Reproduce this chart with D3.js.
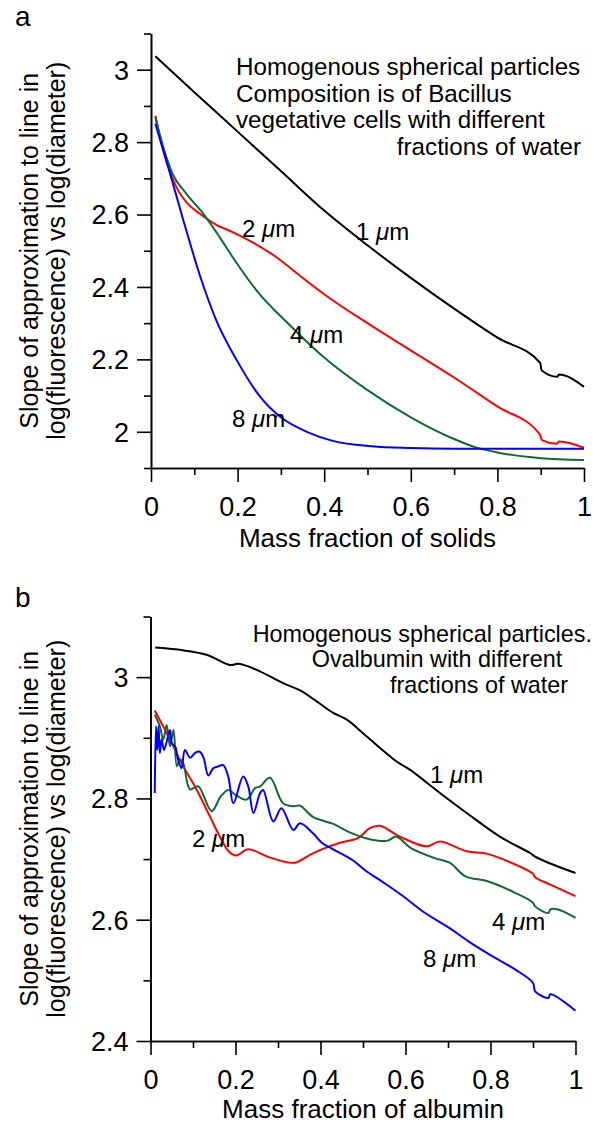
<!DOCTYPE html>
<html><head><meta charset="utf-8">
<script src="https://cdn.jsdelivr.net/npm/d3@7"></script>
<style>
html,body{margin:0;padding:0;background:#fff;}
svg text{font-family:"Liberation Sans",Arial,sans-serif;fill:#000;}
</style></head>
<body><svg id="c" width="607" height="1128"></svg>
<script>
// ---------- DATA ----------
const xTicks = [0, 0.2, 0.4, 0.6, 0.8, 1];
const xMinor = [0.1, 0.3, 0.5, 0.7, 0.9];
const aYTicks = [2, 2.2, 2.4, 2.6, 2.8, 3];
const aYMinor = [1.9, 2.1, 2.3, 2.5, 2.7, 2.9, 3.1];
const bYTicks = [2.4, 2.6, 2.8, 3];
const bYMinor = [2.5, 2.7, 2.9, 3.1];

// Panel a
const a1x = [0.01,0.1,0.2,0.3,0.4,0.5,0.6,0.7,0.8,0.899,0.902,0.938,0.942,1.0];
const a1y = [3.037,2.938,2.829,2.720,2.611,2.515,2.425,2.34,2.26,2.190,2.170,2.152,2.158,2.124];
const a2x = [0.01,0.03,0.059,0.085,0.113,0.15,0.19,0.235,0.29,0.344,0.4,0.5,0.6,0.7,0.8,0.898,0.903,0.937,0.943,1.0];
const a2y = [2.873,2.77,2.675,2.63,2.602,2.572,2.551,2.523,2.482,2.431,2.38,2.30,2.225,2.15,2.07,1.993,1.977,1.967,1.973,1.956];
const a4x = [0.01,0.03,0.05,0.08,0.121,0.16,0.19,0.244,0.32,0.4,0.5,0.6,0.7,0.75,0.8,0.9,1.0];
const a4y = [2.869,2.78,2.712,2.66,2.602,2.535,2.48,2.39,2.295,2.205,2.115,2.04,1.98,1.957,1.943,1.927,1.922];
const a8x = [0.01,0.04,0.075,0.117,0.15,0.197,0.25,0.3,0.36,0.42,0.51,0.6,0.7,1.0];
const a8y = [2.851,2.73,2.583,2.417,2.31,2.2,2.10,2.04,2.00,1.975,1.96,1.955,1.953,1.953];

// Panel b
const b1x = [0.011,0.069,0.132,0.187,0.207,0.25,0.312,0.352,0.391,0.43,0.462,0.509,0.579,0.611,0.681,0.744,0.822,0.893,0.905,0.936,1.0];
const b1y = [3.049,3.045,3.037,3.020,3.022,3.012,2.990,2.978,2.960,2.941,2.930,2.902,2.861,2.847,2.809,2.776,2.737,2.710,2.704,2.694,2.677];
const b2x = [0.01,0.038,0.077,0.109,0.14,0.167,0.185,0.202,0.23,0.284,0.339,0.375,0.403,0.446,0.489,0.516,0.54,0.587,0.65,0.681,0.744,0.791,0.832,0.9,0.905,0.941,1.0];
const b2y = [2.945,2.908,2.853,2.814,2.770,2.732,2.712,2.706,2.716,2.702,2.694,2.707,2.716,2.727,2.735,2.751,2.755,2.737,2.721,2.729,2.713,2.709,2.699,2.676,2.670,2.658,2.639];
const b4x = [0.01,0.022,0.03,0.038,0.046,0.054,0.062,0.069,0.077,0.093,0.112,0.144,0.165,0.183,0.2,0.226,0.246,0.258,0.281,0.312,0.336,0.352,0.383,0.43,0.469,0.509,0.556,0.579,0.611,0.667,0.704,0.74,0.795,0.859,0.9,0.905,0.936,0.941,0.959,1.0];
const b4y = [2.938,2.919,2.897,2.921,2.886,2.913,2.853,2.864,2.858,2.815,2.820,2.779,2.803,2.814,2.806,2.798,2.817,2.820,2.834,2.792,2.787,2.788,2.769,2.758,2.744,2.734,2.730,2.737,2.719,2.702,2.694,2.672,2.663,2.644,2.628,2.622,2.611,2.617,2.617,2.603];
const b8x = [0.01,0.013,0.016,0.019,0.022,0.026,0.032,0.042,0.046,0.05,0.058,0.065,0.073,0.081,0.093,0.105,0.116,0.125,0.136,0.148,0.16,0.171,0.183,0.195,0.218,0.23,0.242,0.258,0.265,0.289,0.308,0.336,0.352,0.383,0.403,0.43,0.476,0.508,0.549,0.594,0.64,0.704,0.749,0.804,0.858,0.9,0.905,0.936,0.941,1.0];
const b8y = [2.809,2.919,2.880,2.919,2.875,2.897,2.880,2.905,2.913,2.891,2.886,2.864,2.850,2.880,2.867,2.875,2.877,2.867,2.838,2.850,2.853,2.855,2.836,2.792,2.836,2.820,2.776,2.809,2.814,2.762,2.784,2.748,2.759,2.742,2.727,2.716,2.698,2.680,2.661,2.639,2.614,2.586,2.564,2.540,2.518,2.496,2.482,2.471,2.477,2.450];

const colors = {k:"#000000", r:"#ff0000", g:"#116b31", b:"#0000ff"};

// ---------- DRAW ----------
const svg = d3.select("#c");
const FS_TICK = 27, FS_XTITLE = 26, FS_YTITLE = 25;

function panel(cfg){
  const x = d3.scaleLinear().domain([0,1]).range(cfg.xr);
  const y = d3.scaleLinear().domain(cfg.yd).range(cfg.yr);
  const g = svg.append("g");
  g.append("g").attr("transform",`translate(0,${cfg.yr[0]})`)
    .call(d3.axisBottom(x).tickValues(xMinor).tickSize(7).tickSizeOuter(0).tickFormat(""));
  g.append("g").attr("transform",`translate(${cfg.xr[0]},0)`)
    .call(d3.axisLeft(y).tickValues(cfg.yMinor).tickSize(7).tickSizeOuter(0).tickFormat(""));
  const xa = g.append("g").attr("transform",`translate(0,${cfg.yr[0]})`)
    .call(d3.axisBottom(x).tickValues(xTicks).tickSize(14).tickSizeOuter(0).tickPadding(9).tickFormat(d3.format("~g")));
  const ya = g.append("g").attr("transform",`translate(${cfg.xr[0]},0)`)
    .call(d3.axisLeft(y).tickValues(cfg.yTicks).tickSize(14).tickSizeOuter(0).tickPadding(8).tickFormat(d3.format("~g")));
  g.selectAll(".domain").attr("stroke","#000").attr("stroke-width",1.6);
  g.selectAll(".tick line").attr("stroke","#000").attr("stroke-width",1.6);
  g.selectAll(".tick text").attr("font-size",FS_TICK).attr("font-family","Liberation Sans, Arial, sans-serif").attr("fill","#000");
  xa.selectAll(".tick text").attr("dy","0.92em");
  ya.selectAll(".tick text").attr("dy","0.35em");
  const line = d3.line().x(d=>x(d[0])).y(d=>y(d[1])).curve(cfg.curve);
  cfg.series.forEach(s=>{
    const pts = s.x.map((v,i)=>[v,s.y[i]]);
    g.append("path").attr("d",line(pts)).attr("fill","none")
      .attr("stroke",s.c).attr("stroke-width",2).attr("stroke-linejoin","round");
  });
  g.append("text").attr("x",(cfg.xr[0]+cfg.xr[1])/2).attr("y",cfg.xtY)
    .attr("text-anchor","middle").attr("font-size",FS_XTITLE).text(cfg.xTitle);
  const cy = (cfg.yr[0]+cfg.yr[1])/2;
  g.append("text").attr("transform",`translate(${cfg.yt1X},${cy}) rotate(-90)`)
    .attr("text-anchor","middle").attr("font-size",FS_YTITLE).text("Slope of approximation to line in");
  g.append("text").attr("transform",`translate(${cfg.yt2X},${cy}) rotate(-90)`)
    .attr("text-anchor","middle").attr("font-size",FS_YTITLE).text("log(fluorescence) vs log(diameter)");
  g.append("text").attr("x",15).attr("y",cfg.letterY).attr("font-size",28).text(cfg.letter);
  cfg.notes.forEach(n=>{
    g.append("text").attr("x",n[0]).attr("y",n[1]).attr("text-anchor",n[3]||"start")
      .attr("font-size",cfg.noteFS).text(n[2]);
  });
  cfg.labels.forEach(l=>{
    const t = g.append("text").attr("x",l[0]).attr("y",l[1]).attr("font-size",24);
    t.append("tspan").text(l[2]+" ");
    t.append("tspan").attr("font-style","italic").text("\u03bc");
    t.append("tspan").text("m");
  });
}

panel({
  xr:[151,584], yd:[1.9,3.1], yr:[468,33.5], yTicks:aYTicks, yMinor:aYMinor,
  curve:d3.curveMonotoneX,
  series:[{x:a1x,y:a1y,c:colors.k},{x:a2x,y:a2y,c:colors.r},{x:a4x,y:a4y,c:colors.g},{x:a8x,y:a8y,c:colors.b}],
  xTitle:"Mass fraction of solids", xtY:547, yt1X:38, yt2X:65,
  letter:"a", letterY:26, noteFS:24.2,
  notes:[[236,75,"Homogenous spherical particles"],[236,101.7,"Composition is of Bacillus"],
         [236,128.3,"vegetative cells with different"],[581,155,"fractions of water","end"]],
  labels:[[356,240,"1"],[242,237,"2"],[290,343,"4"],[232,427,"8"]]
});

panel({
  xr:[150.5,575.5], yd:[2.4,3.1], yr:[1041,616.5], yTicks:bYTicks, yMinor:bYMinor,
  curve:d3.curveCatmullRom.alpha(0.5),
  series:[{x:b1x,y:b1y,c:colors.k},{x:b2x,y:b2y,c:colors.r},{x:b4x,y:b4y,c:colors.g},{x:b8x,y:b8y,c:colors.b}],
  xTitle:"Mass fraction of albumin", xtY:1118, yt1X:38, yt2X:65,
  letter:"b", letterY:607, noteFS:23.4,
  notes:[[592,641.7,"Homogenous spherical particles.","end"],[311.7,667,"Ovalbumin with different"],
         [390,693,"fractions of water"]],
  labels:[[430,782.7,"1"],[192,847,"2"],[492,930,"4"],[423,966.7,"8"]]
});
</script></body></html>
